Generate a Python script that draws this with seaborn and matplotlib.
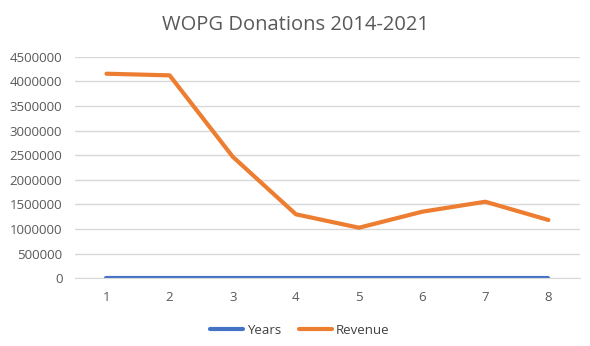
import matplotlib
matplotlib.use("Agg")
import matplotlib.pyplot as plt
import seaborn as sns
import pandas as pd
from matplotlib.lines import Line2D

# Chart data
index = [1, 2, 3, 4, 5, 6, 7, 8]
years = [2014, 2015, 2016, 2017, 2018, 2019, 2020, 2021]
revenue = [4155000, 4122000, 2469000, 1300000, 1027000, 1352000, 1555000, 1184000]
y_ticks = [0, 500000, 1000000, 1500000, 2000000, 2500000, 3000000, 3500000, 4000000, 4500000]
title = "WOPG Donations 2014-2021"

sns.set_style("white")
plt.rcParams["font.family"] = ["Open Sans", "DejaVu Sans"]

df = pd.DataFrame({
    "idx": index * 2,
    "value": years + revenue,
    "series": ["Years"] * len(index) + ["Revenue"] * len(index),
})

fig = plt.figure(figsize=(5.9, 3.46), dpi=100)
ax = fig.add_axes([0.127, 0.1957, 0.856, 0.6403])

palette = {"Years": "#4472C4", "Revenue": "#ED7D31"}
sns.lineplot(data=df, x="idx", y="value", hue="series", palette=palette,
             linewidth=3, ax=ax, legend=False, solid_capstyle="round")

ax.set_xlim(0.5, 8.5)
ax.set_ylim(0, 4500000)
ax.set_yticks(y_ticks)
ax.set_yticklabels([str(v) for v in y_ticks])
ax.set_xticks(index)
ax.set_xticklabels([str(i) for i in index])
ax.yaxis.grid(True, color="#d9d9d9", linewidth=1)
ax.set_axisbelow(True)
for s in ["top", "right", "left"]:
    ax.spines[s].set_visible(False)
ax.spines["bottom"].set_color("#d9d9d9")
ax.tick_params(axis="both", length=0, labelsize=9.5, colors="#595959", pad=9)
ax.set_xlabel("")
ax.set_ylabel("")

fig.text(0.5, 0.928, title, ha="center", va="center", fontsize=14.5, color="#595959")

handles = [Line2D([], [], color=palette[k], linewidth=3) for k in ["Years", "Revenue"]]
fig.legend(handles, ["Years", "Revenue"], loc="center", bbox_to_anchor=(0.508, 0.045),
           ncol=2, frameon=False, fontsize=9.5, labelcolor="#404040",
           handlelength=2.5, handletextpad=0.3, columnspacing=1.4)

fig.savefig("out.png", dpi=100, facecolor="white")
